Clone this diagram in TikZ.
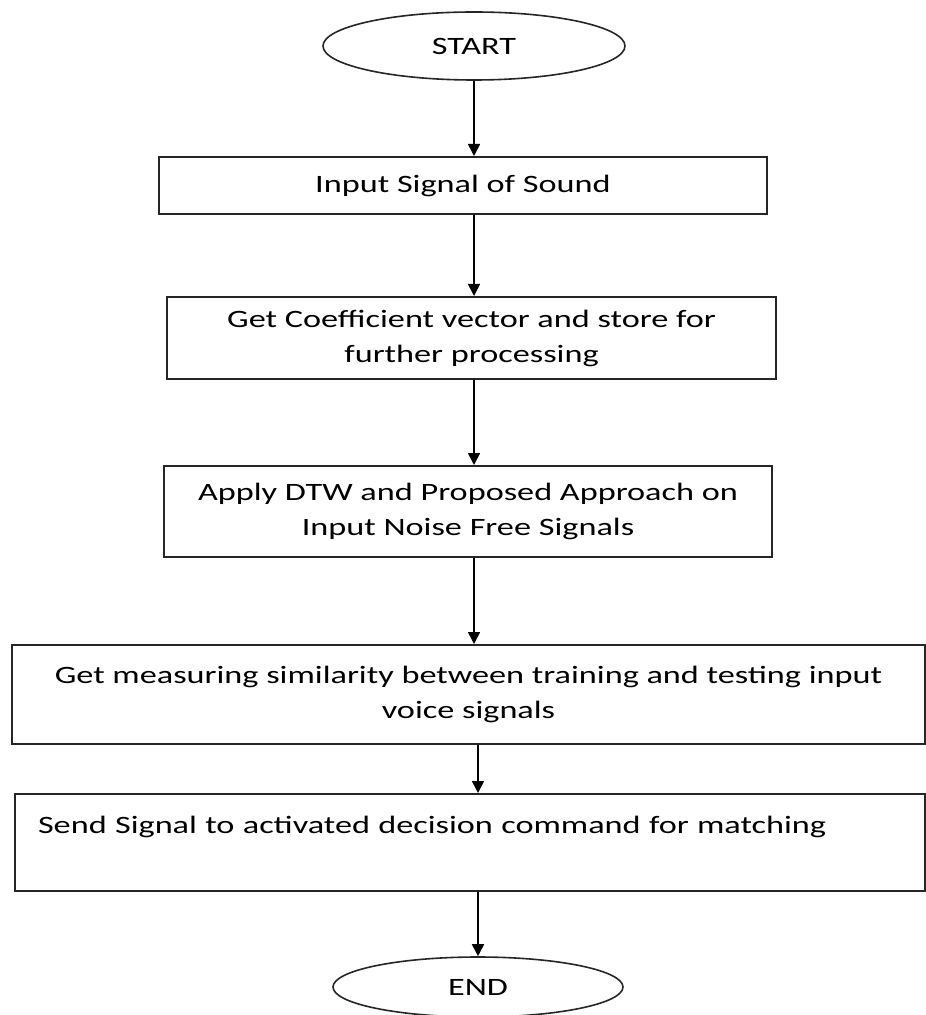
\documentclass[tikz,border=0pt]{standalone}
\usepackage{fontspec}
\setmainfont{Carlito}[FakeStretch=1.37]
\usetikzlibrary{shapes.geometric, arrows.meta}

\begin{document}
\begin{tikzpicture}[
  x=0.5pt, y=-0.5pt,
  terminal/.style={
    ellipse,
    draw=black!85,
    line width=0.8pt,
    inner sep=0pt,
    font=\fontsize{12.5}{17.5}\selectfont
  },
  stepbox/.style={
    rectangle,
    draw=black!85,
    line width=1pt,
    inner sep=0pt,
    align=center,
    font=\fontsize{12.5}{17.5}\selectfont
  },
  arrow/.style={-{Triangle[length=6pt, width=6pt]}, line width=0.8pt, draw=black}
]
\useasboundingbox (0,0) rectangle (925,1015);

\node[terminal, minimum width=151pt, minimum height=34pt] (start) at (474,46) {START};
\node[stepbox, minimum width=304pt, minimum height=28.5pt] (input) at (463,185.5) {Input Signal of Sound};
\node[stepbox, minimum width=304.5pt, minimum height=41pt] (coeff) at (471.5,338) {Get Coefficient vector and store for\\further processing};
\node[stepbox, minimum width=304pt, minimum height=45.5pt] (dtw) at (468,511.5) {Apply DTW and Proposed Approach on\\Input Noise Free Signals};
\node[stepbox, minimum width=456.5pt, minimum height=49.5pt] (similar) at (468.5,694.5) {Get measuring similarity between training and testing input\\voice signals};
\node[stepbox, minimum width=455pt, minimum height=48.5pt, align=left, text width=432pt] (decision) at (470,842.5) {Send Signal to activated decision command for matching\\\mbox{}};
\node[terminal, minimum width=145pt, minimum height=30pt] (finish) at (478,987) {END};

\draw[arrow] (start.south) -- (start.south |- input.north);
\draw[arrow] (input.south -| start) -- (coeff.north -| start);
\draw[arrow] (coeff.south -| start) -- (dtw.north -| start);
\draw[arrow] (dtw.south -| start) -- (similar.north -| start);
\draw[arrow] (similar.south -| finish) -- (decision.north -| finish);
\draw[arrow] (decision.south -| finish) -- (finish.north);

\end{tikzpicture}
\end{document}
